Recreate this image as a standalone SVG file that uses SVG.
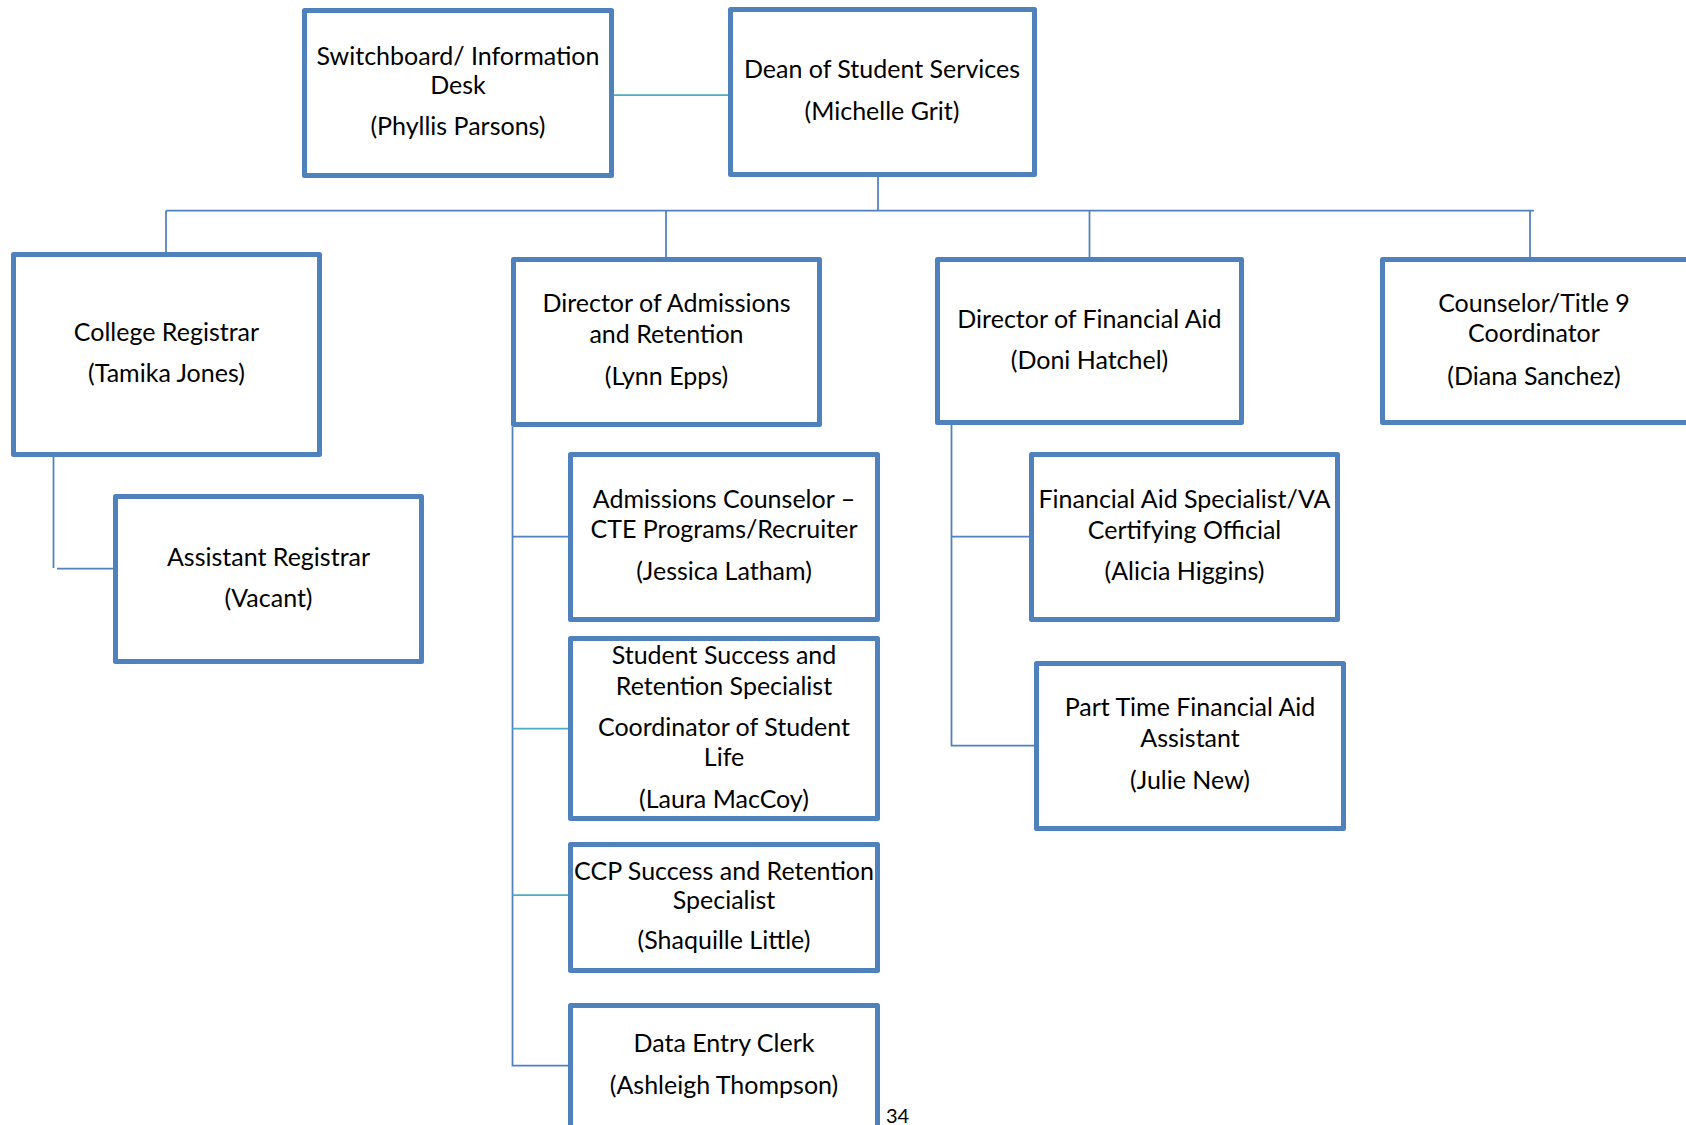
<svg xmlns="http://www.w3.org/2000/svg" width="1686" height="1125" viewBox="0 0 1686 1125">
  <style>
    .box { fill: #ffffff; stroke: #4f81bd; stroke-width: 5; stroke-linejoin: round; }
    .lbl { font-family: Lato, "Open Sans", "Liberation Sans", sans-serif; font-size: 25px; fill: #000000; text-anchor: middle; }
    .wire { fill: none; stroke: #4f81bd; stroke-width: 1.75; }
    .wire.teal { stroke: #4bacc6; }
    .pg { font-family: Lato, "Liberation Sans", sans-serif; font-size: 20px; fill: #000000; }
  </style>
  <rect width="1686" height="1125" fill="#ffffff"/>

  <!-- reporting lines -->
  <g id="connectors">
    <path class="wire teal" d="M614,95 H728"/>
    <path class="wire" d="M878,177 V210.5"/>
    <path class="wire" d="M166,210.5 H1534"/>
    <path class="wire" d="M166,210.5 V252"/>
    <path class="wire" d="M666,210.5 V257"/>
    <path class="wire" d="M1089.5,210.5 V257"/>
    <path class="wire" d="M1530,210.5 V257"/>
    <path class="wire" d="M53.5,457 V568"/>
    <path class="wire" d="M57,568.5 H113"/>
    <path class="wire" d="M512.5,427 V1065.5 H568"/>
    <path class="wire" d="M512.5,536.5 H568"/>
    <path class="wire teal" d="M512.5,728.5 H568"/>
    <path class="wire teal" d="M512.5,895 H568"/>
    <path class="wire" d="M951.5,425 V745.5 H1034"/>
    <path class="wire" d="M951.5,536.5 H1029"/>
  </g>

  <g id="switchboard">
    <rect class="box" x="304.5" y="10.5" width="307" height="165"/>
    <text class="lbl" x="458" y="65">Switchboard/ Information</text>
    <text class="lbl" x="458" y="94">Desk</text>
    <text class="lbl" x="458" y="135">(Phyllis Parsons)</text>
  </g>

  <g id="dean">
    <rect class="box" x="730.5" y="9.5" width="304" height="165"/>
    <text class="lbl" x="882" y="78">Dean of Student Services</text>
    <text class="lbl" x="882" y="120">(Michelle Grit)</text>
  </g>

  <g id="college-registrar">
    <rect class="box" x="13.5" y="254.5" width="306" height="200"/>
    <text class="lbl" x="166.5" y="341">College Registrar</text>
    <text class="lbl" x="166.5" y="382">(Tamika Jones)</text>
  </g>

  <g id="assistant-registrar">
    <rect class="box" x="115.5" y="496.5" width="306" height="165"/>
    <text class="lbl" x="268.5" y="566">Assistant Registrar</text>
    <text class="lbl" x="268.5" y="607">(Vacant)</text>
  </g>

  <g id="director-admissions">
    <rect class="box" x="513.5" y="259.5" width="306" height="165"/>
    <text class="lbl" x="666.5" y="312">Director of Admissions</text>
    <text class="lbl" x="666.5" y="343">and Retention</text>
    <text class="lbl" x="666.5" y="385">(Lynn Epps)</text>
  </g>

  <g id="admissions-counselor">
    <rect class="box" x="570.5" y="454.5" width="307" height="165"/>
    <text class="lbl" x="724" y="508">Admissions Counselor –</text>
    <text class="lbl" x="724" y="538">CTE Programs/Recruiter</text>
    <text class="lbl" x="724" y="580">(Jessica Latham)</text>
  </g>

  <g id="student-success">
    <rect class="box" x="570.5" y="638.5" width="307" height="180"/>
    <text class="lbl" x="724" y="664">Student Success and</text>
    <text class="lbl" x="724" y="695">Retention Specialist</text>
    <text class="lbl" x="724" y="736">Coordinator of Student</text>
    <text class="lbl" x="724" y="766">Life</text>
    <text class="lbl" x="724" y="808">(Laura MacCoy)</text>
  </g>

  <g id="ccp-success">
    <rect class="box" x="570.5" y="844.5" width="307" height="126"/>
    <text class="lbl" x="724" y="880">CCP Success and Retention</text>
    <text class="lbl" x="724" y="909">Specialist</text>
    <text class="lbl" x="724" y="949">(Shaquille Little)</text>
  </g>

  <g id="data-entry">
    <rect class="box" x="570.5" y="1005.5" width="307" height="165"/>
    <text class="lbl" x="724" y="1052">Data Entry Clerk</text>
    <text class="lbl" x="724" y="1094">(Ashleigh Thompson)</text>
  </g>

  <g id="director-financial-aid">
    <rect class="box" x="937.5" y="259.5" width="304" height="163"/>
    <text class="lbl" x="1089.5" y="328">Director of Financial Aid</text>
    <text class="lbl" x="1089.5" y="369">(Doni Hatchel)</text>
  </g>

  <g id="counselor-title9">
    <rect class="box" x="1382.5" y="259.5" width="306" height="163"/>
    <text class="lbl" x="1534" y="312">Counselor/Title 9</text>
    <text class="lbl" x="1534" y="342">Coordinator</text>
    <text class="lbl" x="1534" y="385">(Diana Sanchez)</text>
  </g>

  <g id="financial-aid-specialist">
    <rect class="box" x="1031.5" y="454.5" width="306" height="165"/>
    <text class="lbl" x="1184.5" y="508">Financial Aid Specialist/VA</text>
    <text class="lbl" x="1184.5" y="539">Certifying Official</text>
    <text class="lbl" x="1184.5" y="580">(Alicia Higgins)</text>
  </g>

  <g id="part-time-assistant">
    <rect class="box" x="1036.5" y="663.5" width="307" height="165"/>
    <text class="lbl" x="1190" y="716">Part Time Financial Aid</text>
    <text class="lbl" x="1190" y="747">Assistant</text>
    <text class="lbl" x="1190" y="789">(Julie New)</text>
  </g>

  <!-- page number -->
  <text class="pg" x="886" y="1123">34</text>
</svg>
